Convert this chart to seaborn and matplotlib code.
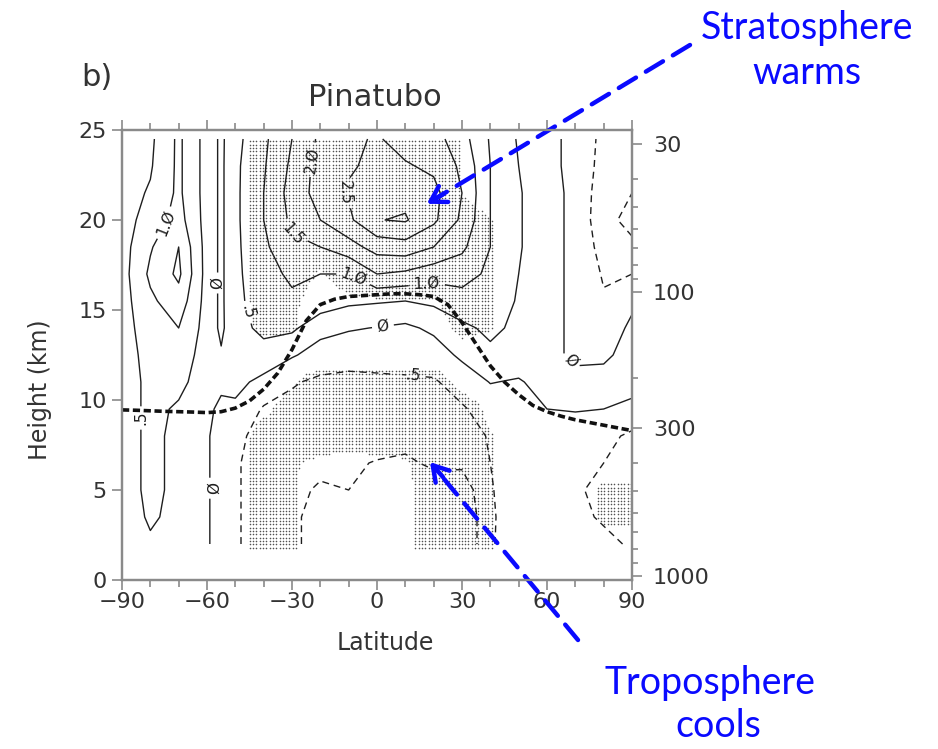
import numpy as np
import pandas as pd
import matplotlib
matplotlib.use("Agg")
import matplotlib.pyplot as plt
import seaborn as sns

# ---------------------------------------------------------------------------
# Zonal-mean temperature anomaly (K) after the Pinatubo eruption
# ---------------------------------------------------------------------------
lat = [-90, -80, -70, -60, -55, -50, -40, -30, -20, -10, 0, 10, 20, 30, 40, 50, 60, 70, 80, 90]
height_km = [2, 3.5, 5, 6.5, 8, 9.5, 11, 12.5, 14, 15.5, 17, 18.5, 20, 21.5, 23, 24.5]

# one row per height level, columns follow `lat`
t_z02_0 = [0.3, 0.45, 0.4, 0.05, -0.2, -0.45, -0.7, -0.95, -1.1, -1.2, -1.2, -1.3, -1.35, -1.45, -0.6, 0.0, -0.2, -0.3, -0.4, -0.55]
t_z03_5 = [0.3, 0.55, 0.4, 0.05, -0.2, -0.45, -0.7, -0.95, -1.1, -1.1, -1.2, -1.3, -1.3, -1.45, -0.6, -0.1, -0.25, -0.4, -0.55, -0.75]
t_z05_0 = [0.3, 0.6, 0.4, 0.05, -0.2, -0.45, -0.7, -0.9, -1.05, -1.0, -1.15, -1.2, -1.15, -1.3, -0.55, -0.15, -0.25, -0.45, -0.6, -0.8]
t_z06_5 = [0.3, 0.6, 0.4, 0.05, -0.2, -0.45, -0.7, -0.85, -0.9, -0.95, -1.02, -1.05, -0.95, -0.9, -0.5, -0.2, -0.25, -0.45, -0.5, -0.75]
t_z08_0 = [0.3, 0.6, 0.4, 0.05, -0.2, -0.4, -0.65, -0.75, -0.8, -0.85, -0.85, -0.9, -0.8, -0.75, -0.45, -0.2, -0.2, -0.4, -0.35, -0.6]
t_z09_5 = [0.3, 0.6, 0.45, 0.1, -0.1, -0.1, -0.55, -0.65, -0.7, -0.75, -0.75, -0.75, -0.7, -0.55, -0.3, -0.2, 0.0, 0.05, 0.0, -0.1]
t_z11_0 = [0.3, 0.6, 0.6, 0.3, 0.1, 0.15, -0.15, -0.45, -0.6, -0.6, -0.55, -0.55, -0.55, -0.3, 0.02, -0.05, 0.2, 0.15, 0.2, 0.15]
t_z12_5 = [0.3, 0.65, 0.75, 0.3, 0.05, 0.3, 0.35, 0.05, -0.2, -0.35, -0.4, -0.35, -0.25, 0.1, 0.4, 0.3, 0.15, -0.1, -0.1, 0.2]
t_z14_0 = [0.3, 0.75, 1.0, 0.3, -0.1, 0.35, 0.6, 0.6, 0.15, 0.05, -0.02, -0.1, 0.1, 0.4, 0.6, 0.4, 0.15, -0.1, -0.3, 0.1]
t_z15_5 = [0.3, 0.9, 1.3, 0.3, -0.1, 0.4, 0.7, 0.9, 0.8, 0.6, 0.55, 0.5, 0.6, 0.8, 0.8, 0.45, 0.15, -0.1, -0.45, -0.1]
t_z17_0 = [0.3, 1.1, 1.6, 0.3, -0.1, 0.4, 0.8, 1.1, 1.0, 1.0, 1.5, 1.4, 1.2, 1.2, 0.9, 0.5, 0.15, -0.1, -0.55, -0.5]
t_z18_5 = [0.3, 0.95, 1.5, 0.3, -0.1, 0.4, 0.9, 1.4, 1.5, 1.8, 2.2, 2.3, 2.0, 1.6, 1.0, 0.55, 0.15, -0.1, -0.7, -0.9]
t_z20_0 = [0.3, 0.7, 1.2, 0.3, -0.1, 0.4, 1.0, 1.6, 2.0, 2.4, 2.98, 3.05, 2.6, 1.9, 1.0, 0.55, 0.15, -0.1, -0.85, -1.15]
t_z21_5 = [0.3, 0.55, 1.1, 0.3, -0.1, 0.4, 1.0, 1.7, 2.2, 2.55, 2.8, 2.85, 2.65, 2.0, 1.0, 0.55, 0.15, -0.1, -0.8, -1.0]
t_z23_0 = [0.3, 0.45, 1.1, 0.3, -0.1, 0.4, 0.95, 1.6, 2.2, 2.45, 2.6, 2.55, 2.4, 1.9, 1.0, 0.5, 0.1, -0.1, -0.7, -0.8]
t_z24_5 = [0.3, 0.4, 1.1, 0.3, -0.1, 0.35, 0.9, 1.5, 2.1, 2.4, 2.55, 2.3, 2.2, 1.7, 0.95, 0.45, 0.1, -0.1, -0.65, -0.7]

# significance (stippled where >= 0.5), same layout as the anomaly rows
s_z02_0 = [0, 0, 0, 0, 0, 0, 1, 0.6, 0, 0, 0, 0.3, 1, 1, 0.55, 0, 0, 0, 0, 0]
s_z03_5 = [0, 0, 0, 0, 0, 0, 1, 0.6, 0, 0, 0, 0.3, 1, 1, 0.55, 0, 0, 0, 0.7, 0.7]
s_z05_0 = [0, 0, 0, 0, 0, 0, 1, 0.6, 0, 0, 0, 0.3, 1, 1, 0.55, 0, 0, 0, 0.7, 0.7]
s_z06_5 = [0, 0, 0, 0, 0, 0, 1, 0.6, 0.3, 0.2, 0.3, 0.4, 1, 1, 0.55, 0, 0, 0, 0, 0]
s_z08_0 = [0, 0, 0, 0, 0, 0, 1, 1, 1, 1, 1, 1, 1, 1, 0.55, 0, 0, 0, 0, 0]
s_z09_5 = [0, 0, 0, 0, 0, 0, 0.3, 1, 1, 1, 1, 1, 1, 1, 0.3, 0, 0, 0, 0, 0]
s_z11_0 = [0, 0, 0, 0, 0, 0, 0, 0.4, 1, 1, 1, 1, 1, 0.2, 0, 0, 0, 0, 0, 0]
s_z12_5 = [0, 0, 0, 0, 0, 0, 0, 0, 0, 0, 0, 0, 0, 0, 0, 0, 0, 0, 0, 0]
s_z14_0 = [0, 0, 0, 0, 0, 0, 0.8, 0.6, 0, 0, 0, 0, 0, 0.8, 0.55, 0, 0, 0, 0, 0]
s_z15_5 = [0, 0, 0, 0, 0, 0, 1, 0.7, 0, 0.35, 0.45, 0.45, 0.45, 1, 0.55, 0, 0, 0, 0, 0]
s_z17_0 = [0, 0, 0, 0, 0, 0, 1, 1, 0.4, 1, 1, 1, 1, 1, 0.55, 0, 0, 0, 0, 0]
s_z18_5 = [0, 0, 0, 0, 0, 0, 1, 1, 1, 1, 1, 1, 1, 1, 0.55, 0, 0, 0, 0, 0]
s_z20_0 = [0, 0, 0, 0, 0, 0, 1, 1, 1, 1, 1, 1, 1, 1, 0.55, 0, 0, 0, 0, 0]
s_z21_5 = [0, 0, 0, 0, 0, 0, 1, 1, 1, 1, 1, 1, 1, 0.45, 0, 0, 0, 0, 0, 0]
s_z23_0 = [0, 0, 0, 0, 0, 0, 1, 1, 1, 1, 1, 1, 1, 0.45, 0, 0, 0, 0, 0, 0]
s_z24_5 = [0, 0, 0, 0, 0, 0, 1, 1, 1, 1, 1, 1, 1, 0.45, 0, 0, 0, 0, 0, 0]

# thermal tropopause height (km)
trop_lat = [-90, -85, -80, -75, -70, -65, -60, -55, -50, -45, -40, -35, -30, -25, -20, -15, -10, -5,
            0, 5, 10, 15, 20, 25, 30, 35, 40, 45, 50, 55, 60, 65, 70, 75, 80, 85, 90]
trop_km = [9.45, 9.43, 9.4, 9.37, 9.35, 9.33, 9.3, 9.35, 9.55, 9.95, 10.6, 11.5, 12.8, 14.4, 15.3, 15.6,
           15.75, 15.8, 15.85, 15.9, 15.9, 15.85, 15.75, 15.3, 14.3, 13.1, 11.9, 11.0, 10.3, 9.7, 9.35,
           9.1, 8.9, 8.75, 8.6, 8.45, 8.3]

# pressure axis
p_major = [30, 100, 300, 1000]
p_minor = [40, 50, 60, 70, 80, 90, 200, 400, 500, 600, 700, 800, 900]
SCALE_H, P_SURF = 6.85, 1030.0

pos_levels = [0.0, 0.5, 1.0, 1.5, 2.0, 2.5, 3.0]
neg_levels = [-1.5, -1.0, -0.5]
label_text = {0.0: "Ø", 0.5: ".5", 1.0: "1.Ø", 1.5: "1.5", 2.0: "2.Ø", 2.5: "2.5", 3.0: "3.Ø",
              -0.5: "-.5", -1.0: "-1.Ø", -1.5: "-1.5"}

# ---------------------------------------------------------------------------
sns.set_theme(style="ticks")
plt.rcParams["font.family"] = ["DejaVu Sans"]

anom = np.array([t_z02_0, t_z03_5, t_z05_0, t_z06_5, t_z08_0, t_z09_5, t_z11_0, t_z12_5,
                 t_z14_0, t_z15_5, t_z17_0, t_z18_5, t_z20_0, t_z21_5, t_z23_0, t_z24_5])
signif = np.array([s_z02_0, s_z03_5, s_z05_0, s_z06_5, s_z08_0, s_z09_5, s_z11_0, s_z12_5,
                   s_z14_0, s_z15_5, s_z17_0, s_z18_5, s_z20_0, s_z21_5, s_z23_0, s_z24_5],
                  dtype=float)
LAT, Z = np.meshgrid(lat, height_km)

W, H = 938, 749
fig = plt.figure(figsize=(W / 100, H / 100), dpi=100)
ax = fig.add_axes([122 / W, 1 - 580 / H, 510 / W, 450 / H])
ax.set_facecolor("white")

# stippling: a fine raster of dots wherever the (bilinearly interpolated) significance >= 0.5
dot_lat = np.arange(-89.4, 90.0, 1.17)
dot_z = np.arange(1.8, 24.55, 0.185)
sig_rows = np.array([np.interp(dot_lat, lat, row) for row in signif])            # (nz, nlat_fine)
sig_fine = np.array([np.interp(dot_z, height_km, col) for col in sig_rows.T]).T  # (nz_fine, nlat_fine)
DL, DZ = np.meshgrid(dot_lat, dot_z)
on = sig_fine >= 0.5
ax.scatter(DL[on], DZ[on], s=1.3, marker="o", color="#505050", linewidths=0, zorder=1)

line_col = "#1e1e1e"
cs_pos = ax.contour(LAT, Z, anom, levels=pos_levels, colors=line_col, linewidths=1.0,
                    linestyles="solid", zorder=2)
cs_neg = ax.contour(LAT, Z, anom, levels=neg_levels, colors=line_col, linewidths=1.0,
                    linestyles=[(0, (5, 3.5))], zorder=2)

ax.clabel(cs_pos, fmt=label_text, inline=True, fontsize=11, colors=line_col,
          manual=[(-73, 19.7), (-81, 9.0), (-57.5, 16.5), (-47.5, 14.8), (-58.5, 5.1),
                  (-31, 18.9), (-8, 16.9), (-21, 23.3), (-17, 21.5), (2, 14.2), (18, 15.9),
                  (66, 11.8)])
ax.clabel(cs_neg, fmt=label_text, inline=True, fontsize=11, colors=line_col,
          manual=[(12, 11.6)])

# tropopause
trop = pd.DataFrame({"lat": trop_lat, "z": trop_km})
sns.lineplot(data=trop, x="lat", y="z", ax=ax, color="#111111", lw=2.6,
             linestyle=(0, (2.0, 1.0)), estimator=None, sort=False, zorder=3)

# axes cosmetics
spine_col = "#8a8a8a"
text_col = "#333333"
ax.set_xlim(-90, 90)
ax.set_ylim(0, 25)
ax.set_xticks([-90, -60, -30, 0, 30, 60, 90])
ax.set_xticks(np.arange(-80, 90, 10), minor=True)
ax.set_yticks([0, 5, 10, 15, 20, 25])
ax.tick_params(axis="both", which="both", direction="out", colors=spine_col,
               labelcolor=text_col, labelsize=16, width=1.2)
ax.tick_params(axis="x", which="major", length=7, top=True, pad=2)
ax.tick_params(axis="x", which="minor", length=5, top=True)
ax.tick_params(axis="y", which="major", length=7, pad=4)
for sp in ax.spines.values():
    sp.set_visible(True)
    sp.set_color(spine_col)
    sp.set_linewidth(1.6)
ax.set_xlabel("")
ax.set_ylabel("")

ax2 = ax.twinx()
ax2.set_ylim(0, 25)
ax2.set_yticks([SCALE_H * np.log(P_SURF / p) for p in p_major])
ax2.set_yticklabels([str(p) for p in p_major])
ax2.set_yticks([SCALE_H * np.log(P_SURF / p) for p in p_minor], minor=True)
ax2.tick_params(axis="y", which="both", direction="out", colors=spine_col,
                labelcolor=text_col, labelsize=16, width=1.2)
ax2.tick_params(axis="y", which="major", length=7, pad=8)
ax2.tick_params(axis="y", which="minor", length=4)
for sp in ax2.spines.values():
    sp.set_color(spine_col)
    sp.set_linewidth(1.6)
ax2.grid(False)

fig.text(40 / W, 1 - 390 / H, "Height (km)", rotation=90, ha="center", va="center",
         fontsize=17, color=text_col)
fig.text(385 / W, 1 - 643 / H, "Latitude", ha="center", va="center", fontsize=17,
         color=text_col)
fig.text(375 / W, 1 - 97 / H, "Pinatubo", ha="center", va="center", fontsize=22,
         color=text_col)
fig.text(97 / W, 1 - 77 / H, "b)", ha="center", va="center", fontsize=22, color=text_col)

# callouts
blue = "#0a0aff"
call_font = dict(ha="center", va="center", fontsize=27, color=blue, family=["Lato", "DejaVu Sans"])
fig.text(807 / W, 1 - 28 / H, "Stratosphere", **call_font)
fig.text(807 / W, 1 - 73 / H, "warms", **call_font)
fig.text(710 / W, 1 - 683 / H, "Troposphere", **call_font)
fig.text(718 / W, 1 - 726 / H, "cools", **call_font)

callouts = [((17.6, 20.9), (690, H - 45), (17, 10)),
            ((18.7, 6.55), (578, H - 640), (13, -15))]
for tip, tail, back in callouts:
    ax.annotate("", xy=tip, xycoords="data", xytext=tail, textcoords="figure pixels",
                arrowprops=dict(arrowstyle="-", color=blue, lw=3.2, linestyle=(0, (4.5, 2.6)),
                                shrinkA=0, shrinkB=6),
                annotation_clip=False)
    ax.annotate("", xy=tip, xycoords="data", xytext=back, textcoords="offset pixels",
                arrowprops=dict(arrowstyle="->,head_length=0.9,head_width=0.55", color=blue,
                                lw=3.2, shrinkA=0, shrinkB=0),
                annotation_clip=False)

fig.savefig("out.png", dpi=100, facecolor="white")
